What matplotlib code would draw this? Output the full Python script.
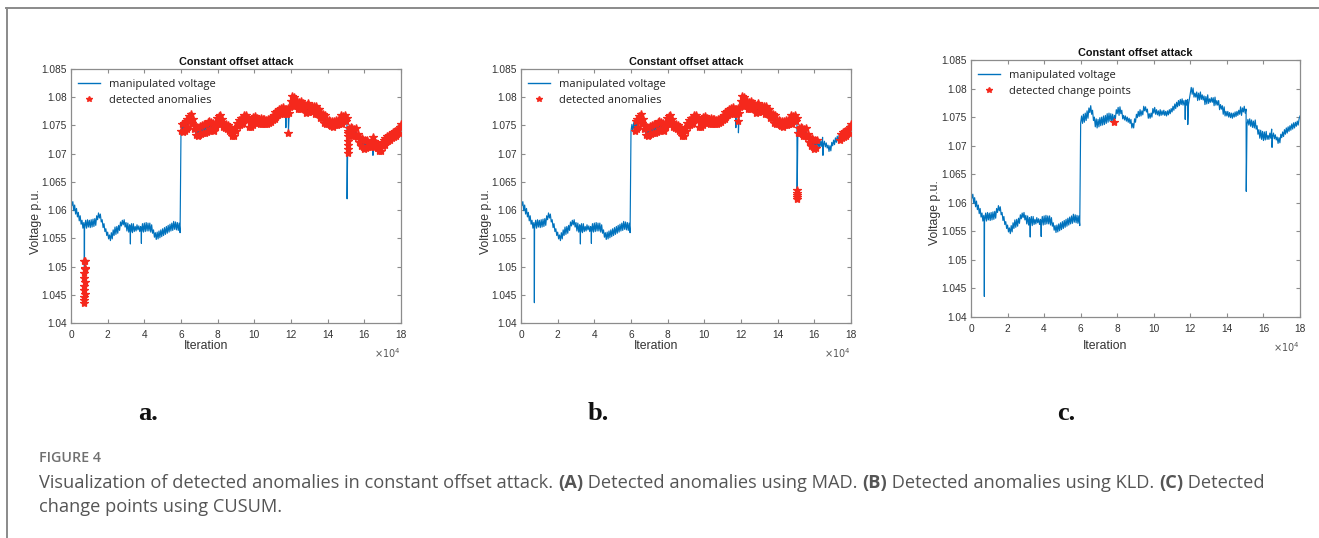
import numpy as np
import matplotlib
matplotlib.use("Agg")
import matplotlib.pyplot as plt
from matplotlib.lines import Line2D
import matplotlib.transforms as mtransforms

# ---------------- data ----------------
step = 500  # sampling step of the stored trace (iterations)
# voltage trace, blocks of 20 samples (each block = 10 000 iterations)
v_blocks = [
    [1.0622,1.0608,1.0615,1.0599,1.0609,1.0593,1.0603,1.0588,1.0596,1.0581,1.0590,1.0575,1.0582,1.0568,1.0578,1.0569,1.0582,1.0568,1.0583,1.0570],
    [1.0582,1.0569,1.0583,1.0570,1.0584,1.0571,1.0585,1.0573,1.0590,1.0583,1.0595,1.0586,1.0593,1.0579,1.0583,1.0569,1.0576,1.0562,1.0567,1.0555],
    [1.0561,1.0549,1.0556,1.0546,1.0560,1.0549,1.0565,1.0555,1.0570,1.0557,1.0571,1.0559,1.0573,1.0564,1.0579,1.0572,1.0582,1.0574,1.0583,1.0570],
    [1.0578,1.0563,1.0577,1.0561,1.0574,1.0561,1.0576,1.0560,1.0576,1.0562,1.0571,1.0563,1.0574,1.0565,1.0572,1.0562,1.0571,1.0562,1.0576,1.0561],
    [1.0577,1.0562,1.0578,1.0563,1.0577,1.0563,1.0577,1.0561,1.0574,1.0559,1.0565,1.0552,1.0560,1.0548,1.0561,1.0549,1.0563,1.0551,1.0565,1.0553],
    [1.0567,1.0555,1.0569,1.0557,1.0571,1.0559,1.0573,1.0561,1.0575,1.0563,1.0577,1.0564,1.0580,1.0566,1.0579,1.0565,1.0578,1.0564,1.0577,1.0560],
    [1.0740,1.0752,1.0739,1.0755,1.0741,1.0757,1.0744,1.0761,1.0748,1.0766,1.0758,1.0770,1.0755,1.0762,1.0744,1.0750,1.0733,1.0747,1.0731,1.0746],
    [1.0733,1.0749,1.0735,1.0750,1.0736,1.0752,1.0737,1.0753,1.0739,1.0756,1.0741,1.0757,1.0743,1.0756,1.0742,1.0755,1.0740,1.0753,1.0747,1.0763],
    [1.0756,1.0767,1.0753,1.0768,1.0756,1.0762,1.0747,1.0753,1.0745,1.0752,1.0743,1.0750,1.0741,1.0748,1.0739,1.0746,1.0731,1.0739,1.0731,1.0747],
    [1.0741,1.0755,1.0749,1.0760,1.0751,1.0763,1.0752,1.0761,1.0754,1.0769,1.0761,1.0768,1.0759,1.0764,1.0748,1.0756,1.0748,1.0757,1.0750,1.0765],
    [1.0757,1.0767,1.0755,1.0763,1.0754,1.0761,1.0752,1.0763,1.0753,1.0761,1.0754,1.0762,1.0753,1.0760,1.0752,1.0761,1.0754,1.0763,1.0756,1.0765],
    [1.0759,1.0769,1.0762,1.0773,1.0765,1.0776,1.0768,1.0779,1.0770,1.0781,1.0772,1.0782,1.0771,1.0779,1.0770,1.0780,1.0771,1.0781,1.0772,1.0782],
    [1.0793,1.0802,1.0790,1.0801,1.0785,1.0792,1.0785,1.0794,1.0779,1.0792,1.0780,1.0794,1.0781,1.0789,1.0780,1.0787,1.0772,1.0786,1.0773,1.0789],
    [1.0774,1.0782,1.0776,1.0784,1.0776,1.0784,1.0770,1.0785,1.0771,1.0779,1.0771,1.0779,1.0763,1.0772,1.0764,1.0770,1.0755,1.0768,1.0752,1.0760],
    [1.0752,1.0760,1.0750,1.0758,1.0749,1.0757,1.0748,1.0757,1.0750,1.0759,1.0751,1.0760,1.0753,1.0762,1.0755,1.0768,1.0753,1.0766,1.0759,1.0769],
    [1.0757,1.0764,1.0737,1.0746,1.0736,1.0747,1.0734,1.0745,1.0732,1.0743,1.0731,1.0745,1.0729,1.0735,1.0720,1.0728,1.0713,1.0727,1.0711,1.0725],
    [1.0709,1.0724,1.0710,1.0725,1.0711,1.0718,1.0711,1.0722,1.0713,1.0729,1.0715,1.0722,1.0712,1.0719,1.0710,1.0715,1.0704,1.0714,1.0705,1.0720],
    [1.0714,1.0724,1.0716,1.0728,1.0720,1.0731,1.0722,1.0733,1.0725,1.0735,1.0727,1.0738,1.0729,1.0740,1.0731,1.0741,1.0734,1.0743,1.0736,1.0747],
]
v_last = 1.0752  # value at iteration 180 000

# short spikes in the trace (iteration, voltage)
spike_iter = [7200, 7250, 7300, 7350, 7400, 32300, 32400, 32450, 38300, 38400, 38450,
              117200, 118600, 150600, 164700]
spike_volt = [1.0568, 1.0500, 1.0436, 1.0495, 1.0566, 1.0569, 1.0540, 1.0568, 1.0567, 1.0541, 1.0566,
              1.0746, 1.0737, 1.0620, 1.0697]

# detected anomalies
mad_ranges = [(60000, 180000)]
mad_extra_iter = [7000, 7800, 7400, 7700, 7300, 7200, 7500, 7300, 7100, 7400, 7200, 7300, 7250,
                  151000, 151000, 151100, 151000, 151100, 151000, 118600]
mad_extra_volt = [1.0510, 1.0509, 1.0498, 1.0495, 1.0488, 1.0480, 1.0472, 1.0465, 1.0458, 1.0452, 1.0446, 1.0440, 1.0436,
                  1.0740, 1.0731, 1.0723, 1.0715, 1.0708, 1.0702, 1.0737]
kld_ranges = [(62000, 161500), (174000, 180000)]
kld_extra_iter = [150500, 150600, 150700, 150800, 150600, 118500]
kld_extra_volt = [1.0623, 1.0620, 1.0626, 1.0636, 1.0631, 1.0758]
cusum_ranges = []
cusum_extra_iter = [78500]
cusum_extra_volt = [1.0742]

x_ticks = [0, 20000, 40000, 60000, 80000, 100000, 120000, 140000, 160000, 180000]
x_tick_labels = ['0', '2', '4', '6', '8', '10', '12', '14', '16', '18']
y_ticks = [1.04, 1.045, 1.05, 1.055, 1.06, 1.065, 1.07, 1.075, 1.08, 1.085]
y_tick_labels = ['1.04', '1.045', '1.05', '1.055', '1.06', '1.065', '1.07', '1.075', '1.08', '1.085']

panel_letters = ['a.', 'b.', 'c.']
legend_labels = ['detected anomalies', 'detected anomalies', 'detected change points']

# ---------------- build trace ----------------
for blk in v_blocks:
    assert len(blk) == 20
base_v = np.array([v for blk in v_blocks for v in blk] + [v_last])
base_it = np.arange(len(base_v)) * step
all_it = np.concatenate([base_it, spike_iter])
all_v = np.concatenate([base_v, spike_volt])
order = np.argsort(all_it, kind='stable')
all_it, all_v = all_it[order], all_v[order]


def anomalies(ranges, ex_it, ex_v):
    m = np.zeros(len(base_it), bool)
    for a, b in ranges:
        m |= (base_it >= a) & (base_it <= b)
    return (np.concatenate([base_it[m], ex_it]), np.concatenate([base_v[m], ex_v]))

sets = [anomalies(mad_ranges, mad_extra_iter, mad_extra_volt),
        anomalies(kld_ranges, kld_extra_iter, kld_extra_volt),
        anomalies(cusum_ranges, cusum_extra_iter, cusum_extra_volt)]

# ---------------- figure ----------------
W, H = 1319, 538
fig = plt.figure(figsize=(W / 100, H / 100), dpi=100)
fig.patch.set_facecolor('white')

BLUE = '#0072BD'
RED = '#f5281c'
AX_COL = '#8c8c8c'
TXT = '#333333'
TF = 'Liberation Sans'

# axes rectangles in pixels (left, top, right, bottom)
rects = [(71, 69, 401, 323), (521, 69, 851, 323), (971, 60, 1300, 317)]
# axis-label centres in pixels
xlab_pos = [(206, 346), (656, 346), (1105, 346)]
ylab_pos = [(36, 222), (486, 222), (935, 213)]

for i, (l, t, r, b) in enumerate(rects):
    ax = fig.add_axes([l / W, 1 - b / H, (r - l) / W, (b - t) / H])
    ax.plot(all_it, all_v, color=BLUE, lw=0.85, zorder=2)
    ai, av = sets[i]
    ax.plot(ai, av, linestyle='none', marker='*', ms=6, color=RED, mec=RED, mew=0.9, zorder=3)
    ax.set_xlim(0, 180000)
    ax.set_ylim(1.04, 1.085)
    ax.set_xticks(x_ticks)
    ax.set_xticklabels(x_tick_labels)
    ax.set_yticks(y_ticks)
    ax.set_yticklabels(y_tick_labels)
    ax.tick_params(direction='in', length=3, width=0.8, colors=AX_COL, labelcolor=TXT,
                   labelsize=7.3, top=True, right=True, pad=3)
    ax.tick_params(axis='x', pad=5)
    for lab in ax.get_xticklabels() + ax.get_yticklabels():
        lab.set_fontfamily(TF)
    for sp in ax.spines.values():
        sp.set_color(AX_COL)
        sp.set_linewidth(0.9)
    ax.set_title('Constant offset attack', fontsize=7.8, fontweight='bold', family=TF,
                 color='#111111', pad=3)
    fig.text(xlab_pos[i][0] / W, 1 - xlab_pos[i][1] / H, 'Iteration', ha='center', va='center',
             fontsize=8.8, family=TF, color=TXT)
    fig.text(ylab_pos[i][0] / W, 1 - ylab_pos[i][1] / H, 'Voltage p.u.', ha='center', va='center',
             rotation=90, fontsize=8.8, family=TF, color=TXT)
    ax.text(1.0, -0.09, r'$\times10^{4}$', transform=ax.transAxes, ha='right', va='top',
            fontsize=7, color='#555555', family=TF)
    handles = [Line2D([], [], color=BLUE, lw=1.0),
               Line2D([], [], linestyle='none', marker='*', ms=4, color=RED)]
    ax.legend(handles, ['manipulated voltage', legend_labels[i]], loc='upper left',
              frameon=False, prop={'family': 'Open Sans', 'size': 8}, handlelength=2.0,
              handletextpad=0.8, labelspacing=0.45, borderaxespad=0.25,
              bbox_to_anchor=(0.0, 0.99), labelcolor='#222222')

# panel letters
letter_x = [148, 598, 1066]
for lx, letter in zip(letter_x, panel_letters):
    fig.text(lx / W, 1 - 413 / H, letter, ha='center', va='center', fontsize=19,
             fontweight='bold', family='Liberation Serif', color='#111111')

# frame lines
fig.add_artist(Line2D([6 / W, 1.0], [1 - 8 / H, 1 - 8 / H], transform=fig.transFigure,
                      color='#8a8a8a', lw=1.4))
fig.add_artist(Line2D([7 / W, 7 / W], [1 - 8 / H, 0], transform=fig.transFigure,
                      color='#8a8a8a', lw=1.4))

# caption
fig.text(39 / W, 1 - 458 / H, 'FIGURE 4', ha='left', va='center', fontsize=10.3,
         family='Open Sans', fontweight='semibold', color='#707070')

renderer = fig.canvas.get_renderer()
ident = mtransforms.IdentityTransform()


def rich_line(x, y, segments):
    for txt, weight in segments:
        tt = fig.text(x, y, txt, transform=ident, ha='left', va='baseline', fontsize=13.15,
                      family='Open Sans', fontweight=weight, color='#555555')
        bb = tt.get_window_extent(renderer)
        x = bb.x1

line1 = [('Visualization of detected anomalies in constant offset attack. ', 'normal'),
         ('(A)', 'bold'), (' Detected anomalies using MAD. ', 'normal'),
         ('(B)', 'bold'), (' Detected anomalies using KLD. ', 'normal'),
         ('(C)', 'bold'), (' Detected', 'normal')]
line2 = [('change points using CUSUM.', 'normal')]
rich_line(39, H - 488, line1)
rich_line(39, H - 512, line2)

fig.savefig('out.png', dpi=100, facecolor='white')
